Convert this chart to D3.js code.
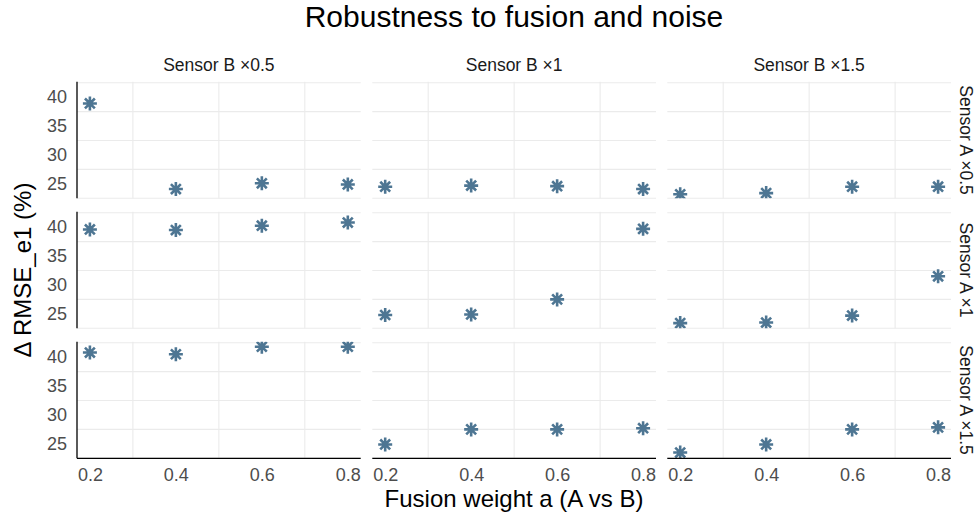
<!DOCTYPE html>
<html>
<head>
<meta charset="utf-8">
<script src="https://cdn.jsdelivr.net/npm/d3@7"></script>
<style>
  html, body { margin: 0; padding: 0; background: #ffffff; }
  svg { display: block; }
  text { font-family: "Liberation Sans", Arial, Helvetica, sans-serif; }
</style>
</head>
<body>
<svg id="chart" width="976" height="520"></svg>
<script>
// ---------------- data ----------------
const fusionWeights = [0.2, 0.4, 0.6, 0.8];
const sensorBLevels = ["Sensor B \u00d70.5", "Sensor B \u00d71", "Sensor B \u00d71.5"];
const sensorALevels = ["Sensor A \u00d70.5", "Sensor A \u00d71", "Sensor A \u00d71.5"];
// ΔRMSE_e1 (%) per Sensor A level; inner arrays follow sensorBLevels, values follow fusionWeights
const rmseA05 = [[38.9, 24.1, 25.1, 24.9], [24.5, 24.7, 24.6, 24.1], [23.2, 23.4, 24.5, 24.5]];
const rmseA1  = [[39.6, 39.5, 40.25, 40.8], [24.8, 24.9, 27.5, 39.7], [23.4, 23.5, 24.7, 31.5]];
const rmseA15 = [[40.8, 40.5, 41.8, 41.8], [24.9, 27.5, 27.5, 27.7], [23.5, 24.9, 27.5, 27.85]];
const yTicks = [25, 30, 35, 40];
const xTicks = [0.2, 0.4, 0.6, 0.8];
const yMinorGrid = [22.5, 27.5, 32.5, 37.5, 42.5];
const xMinorGrid = [0.3, 0.5, 0.7];
const titleText = "Robustness to fusion and noise";
const xTitle = "Fusion weight a (A vs B)";
const yTitle = "\u0394 RMSE_e1 (%)";

const rows = [rmseA05, rmseA1, rmseA15];

// ---------------- layout ----------------
const svg = d3.select("#chart");
const colX = [77, 372.3, 667.3];
const panelW = 283.7;
const rowY = [81.7, 211.7, 341.7];
const panelH = 116.6;
const pointColor = "#4e7693";
const gridColor = "#ebebeb";

const x = d3.scaleLinear().domain([0.17, 0.83]).range([0, panelW]);
const y = d3.scaleLinear().domain([22.5, 42.67]).range([panelH, 0]);

const defs = svg.append("defs");

// asterisk (ggplot shape 8)
const r = 7;
const starPath = (() => {
  let p = "";
  for (let k = 0; k < 4; k++) {
    const a = k * Math.PI / 4;
    const dx = r * Math.cos(a), dy = r * Math.sin(a);
    p += `M${-dx},${-dy}L${dx},${dy}`;
  }
  return p;
})();

rows.forEach((rowData, ri) => {
  rowData.forEach((vals, ci) => {
    const g = svg.append("g").attr("transform", `translate(${colX[ci]},${rowY[ri]})`);
    const clipId = `clip-${ri}-${ci}`;
    defs.append("clipPath").attr("id", clipId)
      .append("rect").attr("x", 0).attr("y", 0).attr("width", panelW).attr("height", panelH);

    // grid
    g.selectAll("line.hg").data(yMinorGrid).enter().append("line")
      .attr("x1", 0).attr("x2", panelW)
      .attr("y1", d => y(d)).attr("y2", d => y(d))
      .attr("stroke", gridColor).attr("stroke-width", 1.1);
    g.selectAll("line.vg").data(xMinorGrid).enter().append("line")
      .attr("y1", 0).attr("y2", panelH)
      .attr("x1", d => x(d)).attr("x2", d => x(d))
      .attr("stroke", gridColor).attr("stroke-width", 1.1);

    // points
    const pts = g.append("g").attr("clip-path", `url(#${clipId})`);
    pts.selectAll("path").data(fusionWeights.map((w, i) => ({ w, v: vals[i] })))
      .enter().append("path")
      .attr("transform", d => `translate(${x(d.w)},${y(d.v)})`)
      .attr("d", starPath)
      .attr("stroke", pointColor).attr("stroke-width", 2.6).attr("fill", "none");

    // left axis
    if (ci === 0) {
      const ax = d3.axisLeft(y).tickValues(yTicks).tickSize(0).tickPadding(10);
      const ag = g.append("g").call(ax);
      ag.select(".domain").remove();
      ag.selectAll("text").attr("font-size", 18).attr("fill", "#4d4d4d")
        .style("font-family", '"Liberation Sans", Arial, sans-serif');
      g.append("line").attr("x1", 0).attr("x2", 0).attr("y1", 0).attr("y2", panelH)
        .attr("stroke", "#000").attr("stroke-width", 1.3);
    }
    // bottom axis
    if (ri === 2) {
      const ax = d3.axisBottom(x).tickValues(xTicks).tickSize(0).tickPadding(10)
        .tickFormat(d3.format(".1f"));
      const ag = g.append("g").attr("transform", `translate(0,${panelH})`).call(ax);
      ag.select(".domain").remove();
      ag.selectAll("text").attr("font-size", 18).attr("fill", "#4d4d4d")
        .style("font-family", '"Liberation Sans", Arial, sans-serif');
      g.append("line").attr("x1", 0).attr("x2", panelW).attr("y1", panelH).attr("y2", panelH)
        .attr("stroke", "#000").attr("stroke-width", 1.3);
    }
  });
});

// strip labels (top)
sensorBLevels.forEach((lab, ci) => {
  svg.append("text").attr("x", colX[ci] + panelW / 2).attr("y", 70.5)
    .attr("text-anchor", "middle").attr("font-size", 17.5).attr("fill", "#1a1a1a").text(lab);
});
// strip labels (right)
sensorALevels.forEach((lab, ri) => {
  const cy = rowY[ri] + panelH / 2;
  svg.append("text").attr("transform", `translate(960,${cy}) rotate(90)`)
    .attr("text-anchor", "middle").attr("font-size", 17.5).attr("fill", "#1a1a1a").text(lab);
});

// title
svg.append("text").attr("x", 514).attr("y", 27).attr("text-anchor", "middle")
  .attr("font-size", 30).attr("fill", "#000").text(titleText);
// axis titles
svg.append("text").attr("x", 514).attr("y", 506.5).attr("text-anchor", "middle")
  .attr("font-size", 24).attr("fill", "#000").text(xTitle);
svg.append("text").attr("transform", `translate(31,270) rotate(-90)`).attr("text-anchor", "middle")
  .attr("font-size", 24).attr("fill", "#000").text(yTitle);
</script>
</body>
</html>
